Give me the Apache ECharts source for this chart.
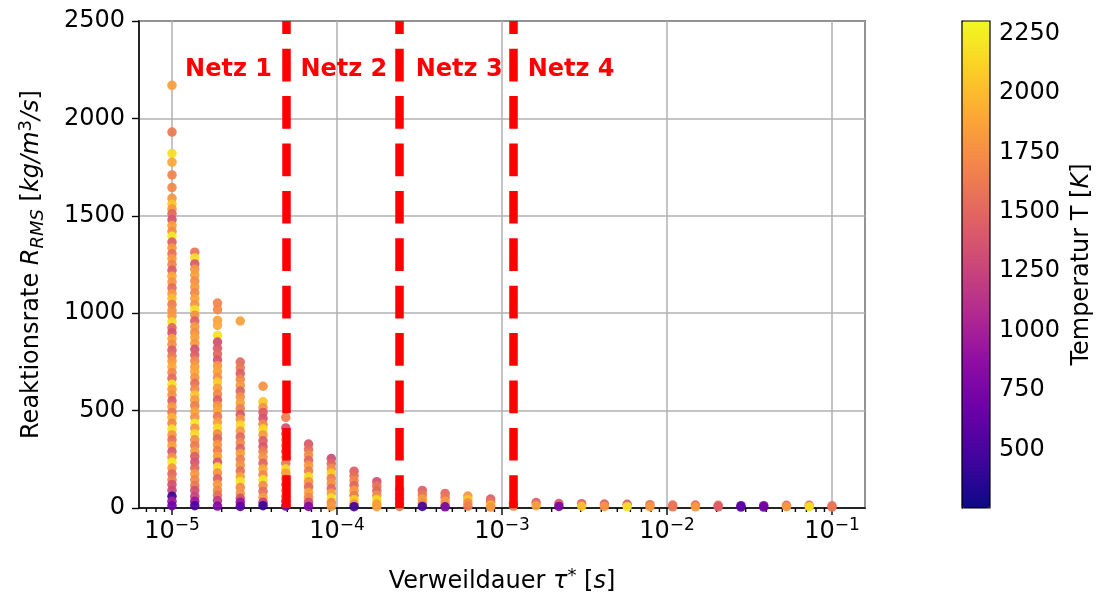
<!DOCTYPE html>
<html>
<head>
<meta charset="utf-8">
<script src="https://cdn.jsdelivr.net/npm/echarts@6/dist/echarts.min.js"></script>
<style>
  html, body { margin: 0; padding: 0; background: #fff; }
  #chart { width: 1099px; height: 599px; }
</style>
</head>
<body>
<div id="chart"></div>
<script>
// Residence times of the sampled columns [s]
const tau = [1.0e-5, 1.374e-5, 1.887e-5, 2.593e-5, 3.562e-5, 4.894e-5, 6.723e-5, 9.237e-5,
  1.269e-4, 1.743e-4, 2.395e-4, 3.290e-4, 4.520e-4, 6.210e-4, 8.532e-4, 1.172e-3,
  1.610e-3, 2.212e-3, 3.039e-3, 4.175e-3, 5.736e-3, 7.880e-3, 1.083e-2, 1.487e-2,
  2.043e-2, 2.807e-2, 3.857e-2, 5.298e-2, 7.279e-2, 1.0e-1];

// Reaction rate R_RMS [kg/m^3/s] and temperature T [K] per residence time
const rate00 = [2170, 1930, 1820, 1775, 1710, 1645, 1590, 1560, 1535, 1510, 1480, 1450, 1420, 1395, 1365, 1335, 1305,
  1280, 1250, 1220, 1190, 1160, 1130, 1100, 1075, 1045, 1015, 985, 955, 925, 900, 870, 840, 810, 780, 755, 725,
  695, 665, 635, 610, 580, 550, 520, 490, 465, 435, 405, 375, 350, 320, 290, 260, 235, 205, 175, 145, 120, 90, 60, 35, 12];
const temp00 = [1830, 1620, 2180, 1900, 1680, 1700, 1780, 2050, 1800, 1500, 1380, 1850, 1740, 2230, 1450, 1800, 1560,
  1820, 1680, 1420, 1900, 1780, 1530, 1800, 2000, 1650, 1760, 1800, 2150, 1480, 1380, 1850, 1740, 1450, 1600, 1800, 1900,
  1700, 1520, 2200, 1820, 1750, 1430, 1800, 1600, 1950, 1700, 2180, 1800, 1560, 1850, 1400, 1750, 2240, 1780, 1500, 1650,
  1350, 1280, 420, 980, 700];
const rate01 = [1313, 1284, 1253, 1225, 1195, 1165, 1135, 1105, 1075, 1045, 1018, 990, 960, 930, 900, 875, 845, 815, 785,
  755, 725, 700, 670, 640, 610, 580, 555, 525, 495, 465, 435, 410, 380, 350, 320, 290, 265, 235, 205, 175, 145, 115, 90, 60, 35, 12];
const temp01 = [1580, 2160, 1400, 1800, 1850, 1740, 1820, 1700, 1880, 1780, 2180, 1760, 1450, 1820, 1740, 1860, 1800, 1380, 1450,
  1700, 1840, 1900, 1780, 1550, 1720, 2050, 1820, 1640, 1860, 1760, 2230, 1780, 2150, 1740, 1620, 1840, 1450, 1380, 1500, 1800, 1700,
  1600, 1350, 1250, 950, 520];
const rate02 = [1052, 1018, 963, 937, 886, 852, 820, 790, 760, 730, 700, 670, 645, 615, 585, 555, 525, 500, 470, 440, 410,
  380, 355, 325, 295, 265, 235, 210, 180, 150, 120, 90, 65, 38, 10];
const temp02 = [1680, 1720, 1880, 1920, 2200, 1350, 1420, 1500, 1380, 1800, 1860, 1750, 2100, 1820, 1700, 1450, 1780, 1900, 1600, 1840, 2150,
  1720, 1500, 1800, 1650, 1860, 1400, 2200, 1760, 1450, 1820, 1700, 1550, 1200, 800];
const rate03 = [960, 749, 720, 690, 660, 630, 600, 570, 540, 510, 480, 455, 425, 395, 365, 335, 305, 280, 250, 220, 190, 160, 135, 105, 75, 50, 30, 8];
const temp03 = [1850, 1520, 1600, 1450, 1700, 1800, 1480, 1750, 1860, 1650, 1400, 1780, 2150, 1820, 1500, 1700, 1450, 1860, 1650, 1760, 1550, 1850, 2200, 1720, 1780, 1350, 950, 600];
const rate04 = [625, 545, 515, 490, 460, 430, 405, 375, 345, 315, 290, 260, 230, 200, 170, 145, 115, 85, 55, 30, 12];
const temp04 = [1760, 2050, 1780, 1420, 1380, 1700, 2150, 1820, 1450, 1400, 1650, 1780, 1500, 1900, 1700, 2200, 1740, 1550, 1820, 1250, 420];
const rate05 = [465, 411, 380, 350, 320, 290, 260, 230, 200, 179, 150, 120, 90, 60, 35, 10];
const temp05 = [1650, 1350, 1500, 1780, 1700, 1450, 1860, 1600, 2180, 1850, 1740, 1500, 1780, 1650, 1200, 750];
const rate06 = [328, 300, 272, 245, 218, 190, 160, 135, 108, 80, 55, 30, 8];
const temp06 = [1400, 1550, 1740, 1500, 1820, 1650, 2150, 1780, 1500, 1860, 1700, 1350, 800];
const rate07 = [254, 228, 202, 178, 152, 126, 100, 75, 50, 28, 8];
const temp07 = [1300, 1500, 1740, 2100, 1650, 1780, 1500, 1860, 2200, 1700, 1820];
const rate08 = [189, 165, 140, 115, 90, 65, 42, 20, 7];
const temp08 = [1450, 1550, 1700, 1500, 1820, 1650, 2100, 1780, 450];
const rate09 = [135, 112, 88, 65, 42, 20, 7];
const temp09 = [1350, 1600, 1500, 1740, 2150, 1820, 1860];
const rate10 = [96, 72, 48, 25, 8];
const temp10 = [1550, 1700, 1500, 1780, 1600];
const rate11 = [90, 68, 46, 25, 8];
const temp11 = [1450, 1600, 1820, 1740, 480];
const rate12 = [75, 55, 35, 16, 6];
const temp12 = [1500, 1600, 1820, 1780, 750];
const rate13 = [61, 44, 26, 9];
const temp13 = [1780, 2050, 1740, 1650];
const rate14 = [46, 30, 14, 5];
const temp14 = [1450, 1600, 2000, 1780];
const rate15 = [25, 10];
const temp15 = [1550, 1650];
const rate16 = [28, 12];
const temp16 = [1450, 1860];
const rate17 = [23, 8];
const temp17 = [1400, 750];
const rate18 = [22, 9];
const temp18 = [1450, 2050];
const rate19 = [20, 8];
const temp19 = [1450, 1780];
const rate20 = [19, 7];
const temp20 = [1400, 2200];
const rate21 = [17, 7];
const temp21 = [1550, 1820];
const rate22 = [15, 6];
const temp22 = [1550, 1600];
const rate23 = [15, 6];
const temp23 = [1500, 1820];
const rate24 = [14, 6];
const temp24 = [1500, 1450];
const rate25 = [12, 5];
const temp25 = [650, 600];
const rate26 = [12, 5];
const temp26 = [800, 700];
const rate27 = [14, 7];
const temp27 = [1500, 1820];
const rate28 = [14, 7];
const temp28 = [1500, 2200];
const rate29 = [11, 5];
const temp29 = [1550, 1600];

// Mesh boundaries and their labels
const meshBounds = [4.9e-5, 2.4e-4, 1.17e-3];
const meshNames = ['Netz 1', 'Netz 2', 'Netz 3', 'Netz 4'];
const meshNameTau = [1.2e-5, 6.0e-5, 3.0e-4, 1.43e-3];
const meshNameRate = 2250;

// Axis ticks
const decadeTicks = [1e-5, 1e-4, 1e-3, 1e-2, 1e-1];
const minorTicks = [7e-6, 8e-6, 9e-6,
  2e-5, 3e-5, 4e-5, 5e-5, 6e-5, 7e-5, 8e-5, 9e-5,
  2e-4, 3e-4, 4e-4, 5e-4, 6e-4, 7e-4, 8e-4, 9e-4,
  2e-3, 3e-3, 4e-3, 5e-3, 6e-3, 7e-3, 8e-3, 9e-3,
  2e-2, 3e-2, 4e-2, 5e-2, 6e-2, 7e-2, 8e-2, 9e-2];
const tempTicks = [500, 750, 1000, 1250, 1500, 1750, 2000, 2250];
const tempRange = [253, 2303];
const tauRange = [6.31e-6, 0.1585];
const rateRange = [0, 2500];

const plasma = ['#0d0887', '#41049d', '#6a00a8', '#8f0da4', '#b12a90', '#cc4778',
  '#e16462', '#f2844b', '#fca636', '#fcce25', '#f0f921'];

const rateCols = [rate00, rate01, rate02, rate03, rate04, rate05, rate06, rate07, rate08, rate09,
  rate10, rate11, rate12, rate13, rate14, rate15, rate16, rate17, rate18, rate19,
  rate20, rate21, rate22, rate23, rate24, rate25, rate26, rate27, rate28, rate29];
const tempCols = [temp00, temp01, temp02, temp03, temp04, temp05, temp06, temp07, temp08, temp09,
  temp10, temp11, temp12, temp13, temp14, temp15, temp16, temp17, temp18, temp19,
  temp20, temp21, temp22, temp23, temp24, temp25, temp26, temp27, temp28, temp29];

const points = [];
tau.forEach((t, k) => {
  rateCols[k].forEach((r, i) => points.push([t, r, tempCols[k][i]]));
});

const FONT = 'DejaVu Sans';
const FS = 24;
const RED = '#ff0000';
const mathRich = {
  i: { fontFamily: FONT, fontSize: FS, lineHeight: 30, fontStyle: 'italic', color: '#000' },
  sub: { fontFamily: FONT, fontSize: 18, lineHeight: 18, fontStyle: 'italic', verticalAlign: 'bottom', color: '#000' },
  sup: { fontFamily: FONT, fontSize: 18, lineHeight: 18, verticalAlign: 'top', color: '#000' }
};
const plainNumber = v => String(v);

function tickLine(len) {
  return function (params, api) {
    const p = api.coord([api.value(0), 0]);
    return {
      type: 'line',
      shape: { x1: p[0], y1: p[1], x2: p[0], y2: p[1] + len },
      style: { stroke: '#000', lineWidth: 1.4 }
    };
  };
}

const chart = echarts.init(document.getElementById('chart'));
chart.setOption({
  animation: false,
  backgroundColor: '#fff',
  textStyle: { fontFamily: FONT },
  grid: [
    { left: 139, top: 21, width: 726, height: 487, outerBoundsMode: 'none', containLabel: false,
      show: true, borderColor: '#000', borderWidth: 1.5, backgroundColor: 'transparent' },
    { left: 962, top: 21, width: 28, height: 487, outerBoundsMode: 'none', containLabel: false,
      show: true, borderColor: '#000', borderWidth: 1.2, backgroundColor: 'transparent', z: 10 }
  ],
  xAxis: [
    {
      type: 'log', logBase: 10, gridIndex: 0, min: tauRange[0], max: tauRange[1],
      axisLine: { show: true, onZero: false, lineStyle: { color: '#000', width: 1.5 } },
      axisTick: { show: false },
      minorTick: { show: false },
      splitLine: { show: true, lineStyle: { color: '#b0b0b0', width: 1.5 } },
      axisLabel: {
        margin: 9, showMinLabel: false, showMaxLabel: false, color: '#000',
        formatter: function (v) {
          const e = Math.round(Math.log10(v));
          return '{b|10}{s|\u2212' + Math.abs(e) + '}';
        },
        rich: {
          b: { fontFamily: FONT, fontSize: FS, lineHeight: 30, color: '#000' },
          s: { fontFamily: FONT, fontSize: 17, lineHeight: 17, verticalAlign: 'top', color: '#000' }
        }
      },
      name: 'Verweildauer {i|\u03c4}{sup|*} [{i|s}]',
      nameLocation: 'middle', nameGap: 59,
      nameTextStyle: { fontFamily: FONT, fontSize: FS, lineHeight: 30, color: '#000', rich: mathRich }
    },
    { type: 'value', gridIndex: 1, show: false, min: 0, max: 1 }
  ],
  yAxis: [
    {
      type: 'value', gridIndex: 0, min: rateRange[0], max: rateRange[1], interval: 500,
      axisLine: { show: true, lineStyle: { color: '#000', width: 1.5 } },
      axisTick: { show: true, length: 7, lineStyle: { color: '#000', width: 1.4 } },
      splitLine: { show: true, lineStyle: { color: '#b0b0b0', width: 1.5 } },
      axisLabel: { margin: 14, fontFamily: FONT, fontSize: FS, color: '#000', formatter: plainNumber },
      name: 'Reaktionsrate {i|R}{sub|RMS} [{i|kg/m}{sup|3}{i|/s}]',
      nameLocation: 'middle', nameRotate: 90, nameGap: 92,
      nameTextStyle: { fontFamily: FONT, fontSize: FS, lineHeight: 30, color: '#000', rich: mathRich }
    },
    {
      type: 'value', gridIndex: 1, position: 'right', min: tempRange[0], max: tempRange[1],
      axisLine: { show: true, lineStyle: { color: '#000', width: 1.2 } },
      axisTick: { show: true, length: 6, customValues: tempTicks, lineStyle: { color: '#000', width: 1.4 } },
      axisLabel: { margin: 9, customValues: tempTicks, fontFamily: FONT, fontSize: FS, color: '#000', formatter: plainNumber },
      splitLine: { show: false },
      name: 'Temperatur T [{i|K}]',
      nameLocation: 'middle', nameRotate: 90, nameGap: 77,
      nameTextStyle: { fontFamily: FONT, fontSize: FS, lineHeight: 30, color: '#000', rich: mathRich }
    }
  ],
  visualMap: {
    type: 'continuous', seriesIndex: 0, dimension: 2,
    min: tempRange[0], max: tempRange[1],
    left: 962, top: 21, itemWidth: 28, itemHeight: 487, padding: 0,
    calculable: false, hoverLink: false, z: 1,
    inRange: { color: plasma }
  },
  series: [
    {
      type: 'scatter', xAxisIndex: 0, yAxisIndex: 0,
      symbol: 'circle', symbolSize: 9.5,
      itemStyle: { opacity: 0.93 },
      data: points, silent: true, z: 2
    },
    {
      type: 'scatter', xAxisIndex: 0, yAxisIndex: 0, symbolSize: 0, silent: true, z: 4,
      itemStyle: { color: RED, opacity: 1 },
      data: meshNameTau.map((t, i) => ({ value: [t, meshNameRate], name: meshNames[i] })),
      label: {
        show: true, position: 'right', distance: 0, formatter: '{b}', opacity: 1,
        fontFamily: FONT, fontSize: FS, fontWeight: 'bold', color: RED, verticalAlign: 'middle'
      },
      markLine: {
        silent: true, symbol: 'none', animation: false,
        label: { show: false },
        lineStyle: { color: RED, width: 8.5, type: [32.7, 14.7], opacity: 1 },
        emphasis: { disabled: true },
        data: meshBounds.map(b => [{ coord: [b, rateRange[0]] }, { coord: [b, rateRange[1]] }])
      }
    },
    {
      type: 'custom', xAxisIndex: 0, yAxisIndex: 0, silent: true, clip: false,
      data: decadeTicks.map(v => [v, 0]), renderItem: tickLine(7)
    },
    {
      type: 'custom', xAxisIndex: 0, yAxisIndex: 0, silent: true, clip: false,
      data: minorTicks.map(v => [v, 0]), renderItem: tickLine(4)
    }
  ]
});
</script>
</body>
</html>
